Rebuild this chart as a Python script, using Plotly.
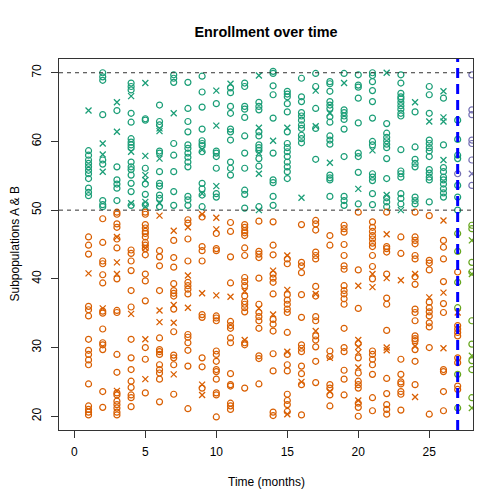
import plotly.graph_objects as go

# ---------------- data ----------------
# Subpopulation A (observed, months 1..27): values of "o" and "x" records per month
A_O = [
    [58.65, 58.0, 57.3, 56.8, 56.3, 55.8, 55.3, 54.6, 53.2, 52.6, 52.1],
    [70.0, 69.4, 68.9, 63.9, 57.3, 56.7, 51.4, 50.8, 50.5],
    [64.5, 56.3, 54.4, 53.8, 53.2, 51.4],
    [68.5, 68.0, 67.5, 64.1, 62.8, 60.4, 59.9, 59.5, 59.1, 57.0, 56.3, 55.9, 55.1, 53.9, 52.7, 50.7],
    [63.3, 63.1, 56.1, 53.8, 52.3, 50.8],
    [65.3, 62.9, 62.4, 58.6, 58.3, 55.6, 53.9, 53.5, 52.2, 51.7, 50.5],
    [69.7, 69.2, 68.6, 59.7, 58.0, 55.6, 52.7, 50.7],
    [68.6, 64.8, 62.9, 61.4, 59.5, 59.0, 58.3, 57.7, 57.0, 56.3, 52.0, 51.5, 50.7],
    [69.5, 67.2, 65.0, 61.8, 60.1, 59.7, 59.4, 58.5, 53.9, 53.1, 52.2, 50.5],
    [65.5, 58.6, 58.3, 57.8, 56.1, 52.4, 51.9],
    [67.8, 67.1, 65.1, 64.1, 61.8, 61.4, 60.2, 57.0, 56.1, 55.1],
    [68.5, 68.0, 65.1, 64.7, 63.5, 60.8, 58.3, 56.1, 52.9, 52.3, 50.3],
    [65.7, 65.1, 64.6, 61.4, 60.8, 59.5, 59.1, 58.7, 57.5, 56.4, 50.5],
    [70.2, 69.9, 68.1, 66.8, 63.4, 58.3, 54.4, 54.0, 52.0, 50.7],
    [67.3, 66.9, 66.5, 65.5, 64.3, 61.4, 59.7, 59.1, 58.5, 57.8, 57.0, 56.3, 55.6, 54.6],
    [69.2, 66.5, 65.8, 64.2, 63.7, 63.1, 62.4, 61.9, 60.9, 60.4, 59.8],
    [69.9, 68.0, 64.8, 61.9, 57.4],
    [68.7, 68.4, 67.3, 65.8, 65.3, 64.8, 63.6, 62.8, 60.8, 60.2, 59.6, 55.1, 54.7, 54.4, 52.0],
    [69.9, 64.6, 64.2, 63.7, 63.2, 61.8, 57.8, 52.0, 51.4, 50.7],
    [69.7, 68.2, 67.9, 66.3, 62.7, 58.3, 57.8, 55.5, 50.9],
    [70.0, 69.6, 68.7, 67.4, 65.8, 63.4, 60.0, 59.5, 55.3, 54.8, 54.3, 52.4, 50.8],
    [62.6, 61.2, 60.6, 60.1, 59.6, 59.1, 57.5, 54.6, 51.8, 51.2, 50.5],
    [69.7, 68.5, 67.0, 66.5, 66.2, 65.7, 65.2, 64.7, 64.1, 63.7, 58.8, 55.7, 55.3, 54.8, 52.4, 51.7, 50.9],
    [64.3, 59.2, 57.4, 56.8, 56.3, 51.9, 51.4, 50.9],
    [68.0, 66.8, 64.1, 60.2, 59.7, 59.1, 58.6, 57.8, 55.9, 55.4, 54.8, 54.4, 51.2],
    [66.3, 59.5, 56.2, 55.6, 54.8, 54.4, 53.8, 53.1, 52.5, 51.9],
    [63.1, 60.3, 58.0, 57.5, 53.6, 51.9, 50.0],
]
A_X = [
    [64.5], [59.7, 58.1, 55.6], [65.7, 61.4], [66.6, 58.5, 51.0],
    [68.5, 57.9, 55.1, 54.4, 51.2, 50.5], [61.9, 61.5, 57.5, 51.0], [64.1], [],
    [58.8, 52.4], [67.4, 62.3, 53.5], [68.4], [], [69.6, 62.0, 58.3, 55.3, 50.0],
    [60.1], [62.0], [51.8], [67.4, 62.2], [64.1, 56.9], [68.5], [53.1], [58.7],
    [70.0, 52.2], [50.0], [65.7], [62.9], [67.3, 63.5, 62.9, 57.3], [],
]

# Subpopulation B (observed, months 1..27)
B_O = [
    [46.1, 44.9, 43.6, 36.0, 35.5, 34.6, 31.2, 29.6, 29.0, 28.2, 27.5, 24.7, 21.5, 21.0, 20.6, 20.2],
    [48.75, 45.3, 42.6, 42.2, 40.6, 39.4, 35.3, 35.0, 32.7, 30.7, 30.4, 29.7, 23.6, 21.3],
    [49.7, 49.4, 48.0, 47.5, 45.8, 44.5, 40.0, 35.4, 35.1, 29.0, 26.4, 23.4, 23.1, 22.2, 21.7, 21.2, 20.6, 20.2],
    [44.2, 43.7, 42.6, 41.2, 38.3, 35.9, 31.2, 28.5, 26.8, 25.1, 24.2, 23.1, 22.7, 21.4],
    [49.7, 49.4, 47.9, 47.4, 46.9, 46.6, 46.1, 45.3, 44.9, 44.4, 43.5, 40.7, 39.7, 36.8, 30.0, 28.3, 23.4],
    [44.1, 43.2, 41.9, 38.3, 31.4, 29.7, 29.4, 29.0, 27.5, 26.8, 26.3, 25.4, 22.1],
    [45.6, 43.1, 41.7, 39.3, 38.3, 37.9, 37.5, 35.6, 32.3, 28.9, 28.5, 27.5, 23.2],
    [48.6, 48.1, 45.8, 42.6, 39.5, 39.0, 38.5, 37.8, 31.9, 31.5, 30.7, 29.6, 27.3, 21.1],
    [49.0, 44.7, 44.1, 42.6, 34.8, 34.4, 28.5, 27.2, 24.1],
    [46.6, 44.4, 44.1, 34.6, 34.3, 33.9, 29.5, 29.0, 28.0, 26.8, 26.5, 25.4, 23.4, 23.1, 19.9],
    [48.2, 46.9, 43.2, 39.4, 33.8, 33.2, 32.8, 31.4, 30.7, 26.2, 24.6, 24.4, 21.9, 21.5, 21.0],
    [47.9, 47.5, 47.0, 46.7, 46.3, 44.5, 43.4, 40.2, 39.6, 39.0, 37.5, 36.7, 36.3, 35.8, 35.2, 30.7, 30.4, 24.1],
    [48.4, 44.0, 43.6, 43.1, 40.1, 36.3, 35.1, 34.5, 33.9, 32.8, 28.8, 28.4, 24.7],
    [48.3, 44.9, 43.5, 40.7, 40.1, 39.5, 37.8, 34.1, 33.4, 32.4, 29.1, 26.6, 20.6, 20.1],
    [42.9, 42.2, 37.7, 36.9, 36.3, 35.6, 35.1, 32.2, 29.0, 27.5, 26.6, 23.2, 22.3, 21.7, 20.7],
    [47.9, 42.4, 41.9, 40.9, 37.7, 34.4, 30.4, 29.9, 29.4, 27.3, 26.2, 24.6, 20.2],
    [48.5, 48.0, 47.1, 43.9, 43.4, 42.9, 38.9, 37.5, 34.5, 33.9, 31.7, 31.1, 30.1, 28.0, 24.9],
    [46.3, 44.9, 29.5, 28.7, 24.6, 24.1, 23.1, 21.5],
    [47.8, 47.3, 46.8, 45.0, 43.4, 41.9, 41.4, 39.0, 38.3, 37.8, 37.1, 36.3, 32.8, 30.0, 29.4, 26.7, 25.4, 23.1],
    [49.7, 41.3, 35.7, 30.6, 28.5, 26.3, 25.1, 24.6, 24.1, 21.9, 21.3, 20.0],
    [48.3, 47.5, 46.9, 46.3, 45.8, 45.2, 44.7, 43.4, 41.8, 40.0, 29.5, 29.0, 28.3, 27.5, 26.1, 22.7, 20.8],
    [49.7, 44.7, 44.4, 43.9, 40.7, 37.2, 36.3, 32.5, 25.5, 23.3, 21.7, 21.0, 20.3],
    [46.1, 43.7, 28.3, 26.1, 25.0, 24.7, 23.6, 23.2, 20.9],
    [49.7, 46.1, 45.6, 45.1, 43.4, 42.9, 40.3, 39.2, 35.6, 35.1, 33.9, 31.7, 31.3, 31.0, 29.7, 28.0, 24.6],
    [49.2, 42.7, 42.3, 41.3, 36.6, 35.8, 35.2, 34.6, 33.6, 33.0, 30.0, 20.3],
    [45.6, 44.6, 42.9, 39.6, 36.4, 35.1, 26.8, 26.5, 23.6, 20.8],
    [41.0, 33.2, 32.7, 32.2, 31.7, 28.5, 27.8, 24.4, 23.9],
]
B_X = [
    [40.8], [35.7], [46.1, 42.4, 40.7, 23.7], [34.9], [44.5, 31.2, 25.4],
    [49.2, 35.4, 33.7], [47.0, 36.2, 33.6, 26.1], [47.5, 40.5, 35.8],
    [49.4, 37.9, 24.6, 23.1], [48.9, 47.2, 37.6], [37.4], [38.2, 31.1], [35.7],
    [41.2, 34.8], [43.4, 38.4, 29.4, 20.3], [25.0], [37.8, 32.4], [28.5, 23.6],
    [], [39.0, 31.1, 30.1, 29.3, 27.1, 22.3], [40.7, 38.8], [46.5, 40.1, 30.0, 29.6],
    [39.8], [40.7, 30.2, 22.8], [37.3], [48.5, 38.0, 29.9], [35.1],
]

# Projected records (months 27 and 28)
PA_O_MONTH = [27, 28, 28, 28, 28, 28, 28, 28]
PA_O_VALUE = [55.3, 69.7, 64.6, 63.9, 60.2, 59.7, 57.3, 53.6]
PA_X_MONTH = [28]
PA_X_VALUE = [55.3]
PB_O_MONTH = [27, 27, 27, 27, 27, 27, 28, 28, 28, 28, 28, 28, 28, 28, 28]
PB_O_VALUE = [46.6, 44.0, 39.5, 35.8, 26.1, 21.2, 47.8, 47.3, 42.4, 41.0, 33.9, 30.5, 28.1, 26.8, 22.7]
PB_X_MONTH = [28, 28, 28, 28]
PB_X_VALUE = [45.6, 40.7, 28.8, 21.2]

THRESHOLDS = [50, 70]
CUTOFF_MONTH = 27
FIRST_MONTH = 1

TEAL, ORANGE, PURPLE, LIME = "#1B9E77", "#D95F02", "#7570B3", "#66A61E"


def flatten(nested, start):
    xs, ys = [], []
    for i, vals in enumerate(nested):
        for v in vals:
            xs.append(start + i)
            ys.append(v)
    return xs, ys


FONT = "Liberation Sans, Arial, Helvetica, sans-serif"
# page body has an 8px margin; the figure is sized/positioned to compensate
OFF = 8
W = H = 504 - OFF

fig = go.Figure()


def add_marks(xs, ys, ch, color):
    if ch == "o":
        marker = dict(symbol="circle-open", size=6, color=color, line=dict(width=1.2, color=color))
    else:
        marker = dict(symbol="x-thin-open", size=6, color=color, line=dict(width=1.3, color=color))
    fig.add_trace(go.Scatter(
        x=xs, y=ys, mode="markers", marker=marker,
        showlegend=False, hoverinfo="x+y", cliponaxis=True,
    ))


for nested, ch, col in [(A_O, "o", TEAL), (A_X, "x", TEAL), (B_O, "o", ORANGE), (B_X, "x", ORANGE)]:
    xs, ys = flatten(nested, FIRST_MONTH)
    add_marks(xs, ys, ch, col)

add_marks(PA_O_MONTH, PA_O_VALUE, "o", PURPLE)
add_marks(PA_X_MONTH, PA_X_VALUE, "x", PURPLE)
add_marks(PB_O_MONTH, PB_O_VALUE, "o", LIME)
add_marks(PB_X_MONTH, PB_X_VALUE, "x", LIME)

for t in THRESHOLDS:
    fig.add_shape(type="line", xref="paper", x0=0, x1=1, yref="y", y0=t, y1=t,
                  line=dict(color="#333333", width=1, dash="4px,4px"), layer="above")

fig.add_shape(type="line", xref="x", x0=CUTOFF_MONTH, x1=CUTOFF_MONTH, yref="paper", y0=0, y1=1,
              line=dict(color="#0000FF", width=3, dash="10px,6px"), layer="above")

L, R, T, B = 59 - OFF, 504 - 473, 59 - OFF, 504 - 430
PW, PH = W - L - R, H - T - B

fig.update_layout(
    width=W, height=H,
    margin=dict(l=L, r=R, t=T, b=B, pad=0, autoexpand=False),
    paper_bgcolor="white", plot_bgcolor="white",
    font=dict(family=FONT, size=12, color="black"),
    title=dict(text="<b>Enrollment over time</b>", x=(L + PW / 2) / W, xanchor="center",
               y=1 - (32 - OFF) / H, yref="container", yanchor="middle",
               font=dict(family=FONT, size=14.4, color="black")),
    xaxis=dict(range=[-1.08, 28.08], tickmode="array", tickvals=[0, 5, 10, 15, 20, 25],
               ticks="outside", ticklen=7, tickcolor="#333333", showgrid=False, zeroline=False,
               showline=True, linecolor="#333333", linewidth=1, mirror=True, automargin=False,
               ticklabelstandoff=4, tickfont=dict(size=12, color="black")),
    yaxis=dict(range=[18, 72], tickmode="array", tickvals=[20, 30, 40, 50, 60, 70],
               ticks="outside", ticklen=7, tickcolor="#333333", showgrid=False, zeroline=False,
               showline=True, linecolor="#333333", linewidth=1, mirror=True, tickangle=-90,
               automargin=False, ticklabelstandoff=5, tickfont=dict(size=12, color="black")),
    annotations=[
        dict(text="Time (months)", xref="paper", yref="paper", x=0.5, y=-(482 - 430) / PH,
             xanchor="center", yanchor="middle", showarrow=False, font=dict(size=12)),
        dict(text="Subpopulations A & B", xref="paper", yref="paper", x=-(59 - 14) / PW, y=0.5,
             xanchor="center", yanchor="middle", textangle=-90, showarrow=False, font=dict(size=12)),
    ],
)

fig.write_html("out.html")
